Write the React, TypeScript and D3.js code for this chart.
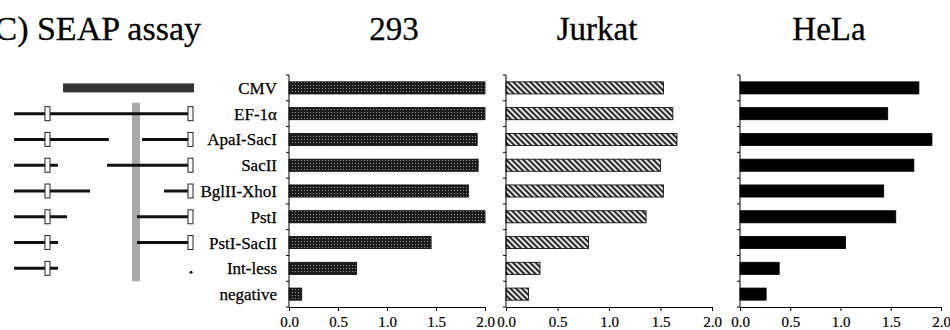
import React, { useEffect, useRef } from "react";
import * as d3 from "d3";

const constructs = ["CMV", "EF-1α", "ApaI-SacI", "SacII", "BglII-XhoI", "PstI", "PstI-SacII", "Int-less", "negative"];
const cellLines = ["293", "Jurkat", "HeLa"];
const values293 = [2.0, 2.0, 1.92, 1.93, 1.83, 2.0, 1.45, 0.69, 0.13];
const valuesJurkat = [1.53, 1.62, 1.66, 1.5, 1.53, 1.36, 0.8, 0.33, 0.22];
const valuesHeLa = [1.78, 1.47, 1.91, 1.73, 1.43, 1.55, 1.05, 0.39, 0.26];
const xTicks = [0, 0.5, 1.0, 1.5, 2.0];

// construct map, positions along the gene in % (0 = left end, 100 = right exon end)
const promoterSpan = [27.4, 100.6];
const segments = [
  [],
  [[0, 97.2]],
  [[0, 53], [71.5, 97.2]],
  [[0, 24.6], [52, 97.2]],
  [[0, 42.5], [83.8, 97.2]],
  [[0, 29.6], [68.7, 97.2]],
  [[0, 24.6], [68.7, 97.2]],
  [[0, 24.6]],
  [],
];
const leftExon = [17.3, 20.1];
const rightExon = [97.2, 100];
const hasLeftExon = [false, true, true, true, true, true, true, true, false];
const hasRightExon = [false, true, true, true, true, true, true, false, false];
const intronBox = [65.9, 70.4];
const intLessDot = 98.9;

const FONT = "Liberation Serif, Times New Roman, DejaVu Serif, serif";

const App = () => {
  const svgRef = useRef<SVGSVGElement>(null);

  useEffect(() => {
    const width = 950, height = 330;
    const top = 75, bottom = 307;

    const svg = d3.select(svgRef.current)
      .attr("width", width)
      .attr("height", height)
      .style("font-family", FONT);
    svg.selectAll("*").remove();

    const defs = svg.append("defs");
    // stipple for 293
    const dots = defs.append("pattern")
      .attr("id", "dots")
      .attr("patternUnits", "userSpaceOnUse")
      .attr("width", 3).attr("height", 3);
    dots.append("rect").attr("width", 3).attr("height", 3).attr("fill", "#1c1c1c");
    dots.append("rect").attr("x", 1).attr("y", 1).attr("width", 1).attr("height", 1).attr("fill", "#9a9a9a");
    // diagonal hatching for Jurkat
    const hatch = defs.append("pattern")
      .attr("id", "hatch")
      .attr("patternUnits", "userSpaceOnUse")
      .attr("width", 4).attr("height", 4)
      .attr("patternTransform", "rotate(-45)");
    hatch.append("rect").attr("width", 4).attr("height", 4).attr("fill", "#e6e6e6");
    hatch.append("rect").attr("width", 2).attr("height", 4).attr("fill", "#2a2a2a");

    const y = d3.scaleBand()
      .domain(constructs)
      .range([top, bottom])
      .paddingInner(0.53)
      .paddingOuter(0.265);
    const step = y.step();
    const gap = (step - y.bandwidth()) / 2;

    // title
    svg.append("text")
      .attr("x", 201).attr("y", 40)
      .attr("text-anchor", "end")
      .style("font-family", FONT).attr("font-size", 34)
      .attr("stroke", "#000").attr("stroke-width", 0.3)
      .text("(C) SEAP assay");

    // construct diagram
    const gx = d3.scaleLinear().domain([0, 100]).range([14, 193]);
    const diag = svg.append("g");
    const cy = (i: number) => (y(constructs[i]) as number) + y.bandwidth() / 2;

    diag.append("rect")
      .attr("x", gx(promoterSpan[0]))
      .attr("y", cy(0) - 4.5)
      .attr("width", gx(promoterSpan[1]) - gx(promoterSpan[0]))
      .attr("height", 9)
      .attr("fill", "#333");

    const grayTop = (y(constructs[1]) as number) - gap + 2;
    const grayBottom = (y(constructs[7]) as number) + y.bandwidth() + gap;
    diag.append("rect")
      .attr("x", gx(intronBox[0]))
      .attr("y", grayTop)
      .attr("width", gx(intronBox[1]) - gx(intronBox[0]))
      .attr("height", grayBottom - grayTop)
      .attr("fill", "#a9a9a9");

    segments.forEach((segs, i) => {
      segs.forEach(s => {
        diag.append("line")
          .attr("x1", gx(s[0])).attr("x2", gx(s[1]))
          .attr("y1", cy(i)).attr("y2", cy(i))
          .attr("stroke", "#111").attr("stroke-width", 3);
      });
      if (hasLeftExon[i]) {
        diag.append("rect")
          .attr("x", gx(leftExon[0])).attr("y", cy(i) - 7)
          .attr("width", gx(leftExon[1]) - gx(leftExon[0])).attr("height", 14)
          .attr("fill", "#fff").attr("stroke", "#222").attr("stroke-width", 1);
      }
      if (hasRightExon[i]) {
        diag.append("rect")
          .attr("x", gx(rightExon[0])).attr("y", cy(i) - 7)
          .attr("width", gx(rightExon[1]) - gx(rightExon[0])).attr("height", 14)
          .attr("fill", "#fff").attr("stroke", "#222").attr("stroke-width", 1);
      }
    });
    diag.append("circle")
      .attr("cx", gx(intLessDot)).attr("cy", cy(7) + 4)
      .attr("r", 1.5).attr("fill", "#111");

    // category labels
    svg.append("g")
      .selectAll("text")
      .data(constructs)
      .enter().append("text")
      .attr("x", 277)
      .attr("y", d => (y(d) as number) + y.bandwidth() / 2)
      .attr("dy", "0.35em")
      .attr("text-anchor", "end")
      .style("font-family", FONT).attr("font-size", 17)
      .attr("stroke", "#000").attr("stroke-width", 0.25)
      .text(d => d);

    const panels = [
      { name: cellLines[0], values: values293, range: [289, 485], fill: "url(#dots)", titleX: 394 },
      { name: cellLines[1], values: valuesJurkat, range: [506, 712], fill: "url(#hatch)", titleX: 597 },
      { name: cellLines[2], values: valuesHeLa, range: [740, 941], fill: "#000", titleX: 829 },
    ];

    panels.forEach(p => {
      const x = d3.scaleLinear().domain([0, 2]).range(p.range);
      const g = svg.append("g");

      g.append("text")
        .attr("x", p.titleX).attr("y", 40)
        .attr("text-anchor", "middle")
        .style("font-family", FONT).attr("font-size", 33)
        .attr("stroke", "#000").attr("stroke-width", 0.3)
        .text(p.name);

      g.selectAll("rect.bar")
        .data(p.values)
        .enter().append("rect")
        .attr("class", "bar")
        .attr("x", x(0))
        .attr("y", (d, i) => y(constructs[i]) as number)
        .attr("width", d => x(d) - x(0))
        .attr("height", y.bandwidth())
        .attr("fill", p.fill)
        .attr("stroke", "#000")
        .attr("stroke-width", 0.8);

      // left axis with ticks between categories
      g.append("line")
        .attr("x1", x(0)).attr("x2", x(0))
        .attr("y1", top).attr("y2", bottom)
        .attr("stroke", "#000");
      g.selectAll("line.yt")
        .data(d3.range(constructs.length + 1))
        .enter().append("line")
        .attr("class", "yt")
        .attr("x1", x(0) - 3).attr("x2", x(0))
        .attr("y1", i => top + i * step).attr("y2", i => top + i * step)
        .attr("stroke", "#000");

      const ax = g.append("g")
        .attr("transform", `translate(0,${bottom})`)
        .call(d3.axisBottom(x).tickValues(xTicks).tickFormat(d3.format(".1f")).tickSize(4).tickPadding(5).tickSizeOuter(0));
      ax.attr("font-family", null);
      ax.select(".domain").attr("stroke", "#000");
      ax.selectAll("text")
        .style("font-family", FONT)
        .attr("font-size", 15)
        .attr("fill", "#000")
        .attr("stroke", "#000").attr("stroke-width", 0.2);
    });
  }, []);

  return <svg ref={svgRef} style={{ position: "absolute", left: 0, top: 0, background: "#fff" }}></svg>;
};

export default App;
